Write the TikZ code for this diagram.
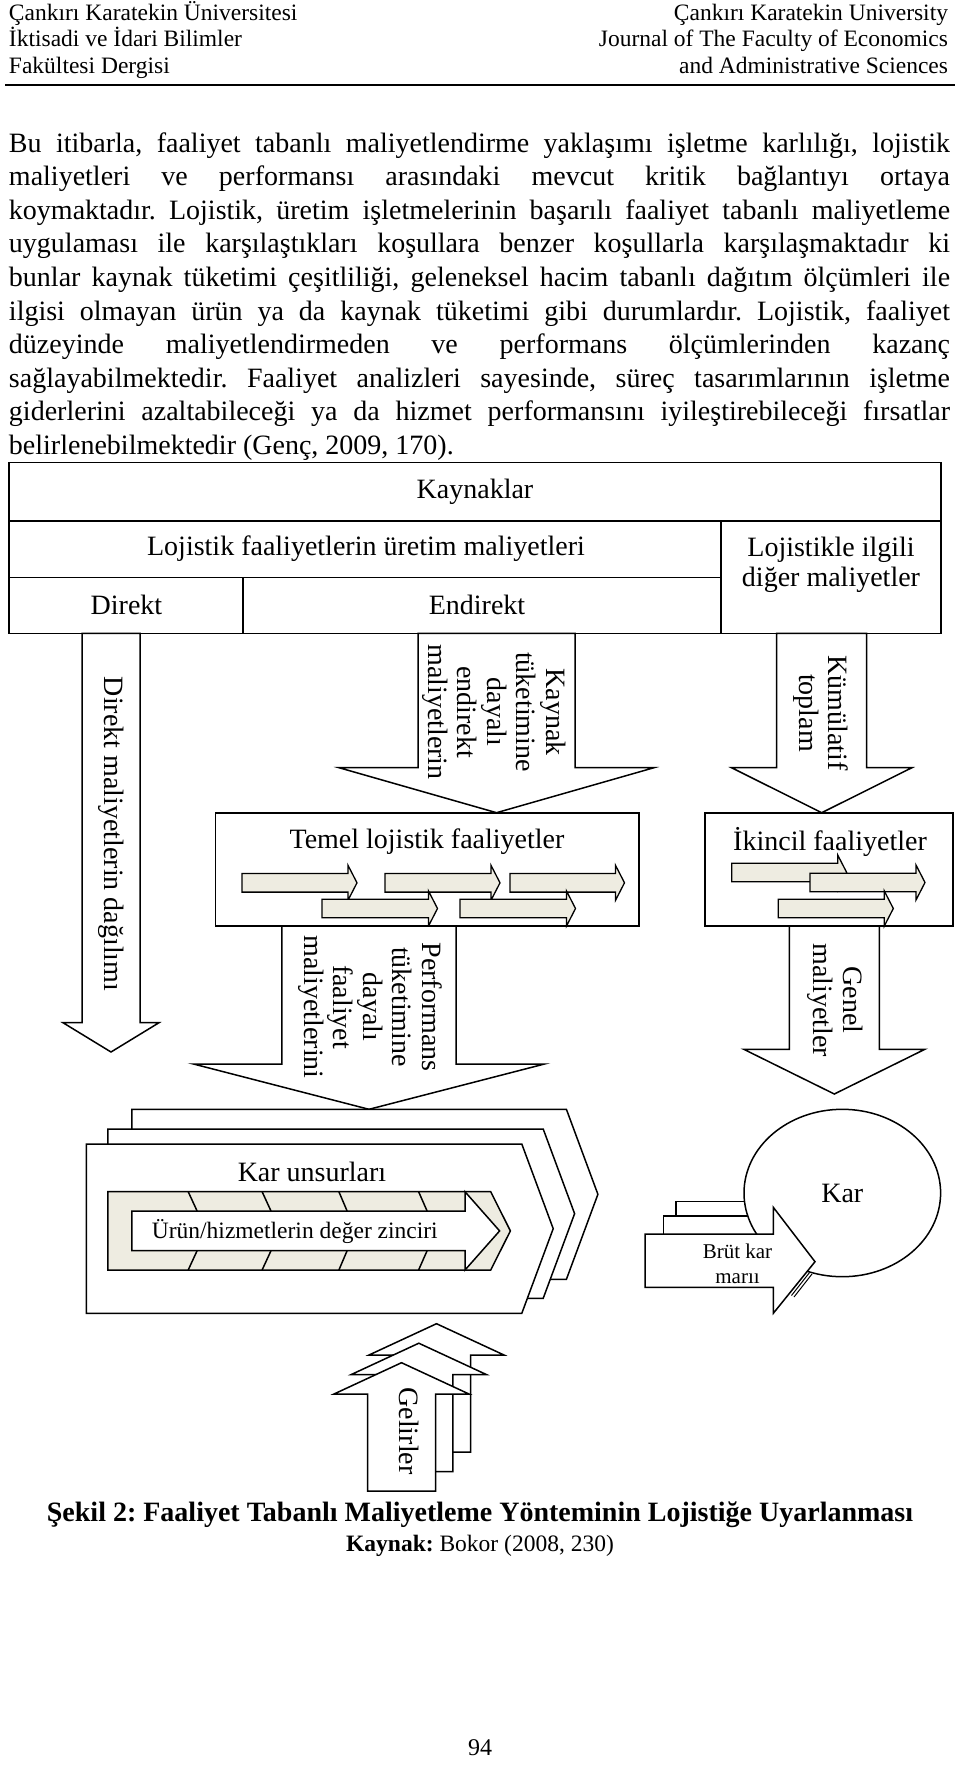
\documentclass[tikz,border=0pt]{standalone}
\usepackage{fontspec}
\setmainfont{Liberation Serif}
\frenchspacing
\definecolor{chev}{HTML}{EEECE1}
% cx, shaft half width, shaft end y, head base y, head half width, tip y
\newcommand\blockarrow[6]{\filldraw[fill=white] ({#1-#2},#3) -- ({#1-#2},#4) -- ({#1-#5},#4) -- (#1,#6) -- ({#1+#5},#4) -- ({#1+#2},#4) -- ({#1+#2},#3) -- cycle;}
% x start, x tip, y middle
\newcommand\chevarr[3]{\filldraw[fill=chev,line width=1.3pt] (#1,{#3-9.3}) -- ({#2-9},{#3-9.3}) -- ({#2-9},{#3-17.5}) -- (#2,#3) -- ({#2-9},{#3+17.5}) -- ({#2-9},{#3+9.3}) -- (#1,{#3+9.3}) -- cycle;}
% x left, y top, x right, x point, y bottom
\newcommand\pentab[5]{\filldraw[fill=white] (#1,#2) -- (#3,#2) -- (#4,{(#2+#5)/2}) -- (#3,#5) -- (#1,#5) -- cycle;}
\begin{document}
\begin{tikzpicture}[x=1pt,y=-1pt,line width=1.5pt,line join=miter,
  every node/.style={inner sep=0pt,outer sep=0pt},
  hdr/.style={font=\fontsize{23.5}{26}\selectfont},
  para/.style={font=\fontsize{28}{33.6}\selectfont,anchor=base west},
  dg/.style={font=\fontsize{28}{29.5}\selectfont,align=center},
  vt/.style={dg,rotate=-90}]
\useasboundingbox (0,0) rectangle (960,1774);
% ---------- header ----------
\node[hdr,anchor=base west] (hl1) at (9,20.7) {Çankırı Karatekin Üniversitesi};
\node[hdr,anchor=base west] (hl2) at (9,46.7) {İktisadi ve İdari Bilimler};
\node[hdr,anchor=base west] (hl3) at (9,74) {Fakültesi Dergisi};
\node[hdr,anchor=base east] (hr1) at (948,20.7) {Çankırı Karatekin University};
\node[hdr,anchor=base east] (hr2) at (948,46.7) {Journal of The Faculty of Economics};
\node[hdr,anchor=base east] (hr3) at (948,74) {and Administrative Sciences};
\draw[line width=2pt] (5,85) -- (955,85);
% ---------- paragraph ----------
\node[para] (p1) at (9,152) {\makebox[941pt][s]{Bu itibarla, faaliyet tabanlı maliyetlendirme yaklaşımı işletme karlılığı, lojistik}};
\node[para] (p2) at (9,185.6) {\makebox[941pt][s]{maliyetleri ve performansı arasındaki mevcut kritik bağlantıyı ortaya}};
\node[para] (p3) at (9,219.2) {\makebox[941pt][s]{koymaktadır. Lojistik, üretim işletmelerinin başarılı faaliyet tabanlı maliyetleme}};
\node[para] (p4) at (9,252.8) {\makebox[941pt][s]{uygulaması ile karşılaştıkları koşullara benzer koşullarla karşılaşmaktadır ki}};
\node[para] (p5) at (9,286.4) {\makebox[941pt][s]{bunlar kaynak tüketimi çeşitliliği, geleneksel hacim tabanlı dağıtım ölçümleri ile}};
\node[para] (p6) at (9,320) {\makebox[941pt][s]{ilgisi olmayan ürün ya da kaynak tüketimi gibi durumlardır. Lojistik, faaliyet}};
\node[para] (p7) at (9,353.6) {\makebox[941pt][s]{düzeyinde maliyetlendirmeden ve performans ölçümlerinden kazanç}};
\node[para] (p8) at (9,387.2) {\makebox[941pt][s]{sağlayabilmektedir. Faaliyet analizleri sayesinde, süreç tasarımlarının işletme}};
\node[para] (p9) at (9,420.8) {\makebox[941pt][s]{giderlerini azaltabileceği ya da hizmet performansını iyileştirebileceği fırsatlar}};
\node[para] (p10) at (9,454.4) {belirlenebilmektedir (Genç, 2009, 170).};
% ---------- table ----------
\draw (9,462.7) rectangle (941,633.3);
\draw (9,521) -- (941,521);
\draw (9,577.3) -- (721,577.3);
\draw (721,521) -- (721,633.3);
\draw (243,577.3) -- (243,633.3);
\node[dg] (kay) at (475,491.8) {Kaynaklar};
\node[dg] (luret) at (366,549) {Lojistik faaliyetlerin üretim maliyetleri};
\node[dg] (dir) at (126.5,605) {Direkt};
\node[dg] (endir) at (477,605) {Endirekt};
\node[dg] (ldiger) at (831,565) {Lojistikle ilgili\\diğer maliyetler};
% ---------- down arrows from the table ----------
\blockarrow{111}{29}{633.3}{1022.7}{48}{1052}
\node[vt] (tdir) at (111,834) {Direkt maliyetlerin dağılımı};
\blockarrow{496.5}{78.5}{633.3}{767.7}{157.5}{812.7}
\node[vt] (tkay) at (494,712) {Kaynak\\tüketimine\\dayalı\\endirekt\\maliyetlerin};
\blockarrow{821.7}{45}{633.3}{767.7}{90.2}{812.7}
\node[vt] (tkum) at (821,713) {Kümülatif\\toplam};
% ---------- activity boxes ----------
\draw[fill=white] (215.5,813) rectangle (639,926);
\node[dg] (temel) at (427,841.7) {Temel lojistik faaliyetler};
\chevarr{242}{357}{882.8}
\chevarr{385}{500}{882.8}
\chevarr{510}{624.5}{882.8}
\chevarr{322}{437.5}{908.5}
\chevarr{460}{575.5}{908.5}
\draw[fill=white] (705,813) rectangle (953,926);
\node[dg] (ikincil) at (830,841.7) {İkincil faaliyetler};
\chevarr{731.7}{846.7}{872.5}
\chevarr{810}{925}{882.5}
\chevarr{778.3}{893.3}{908.5}
% ---------- down arrows from the boxes ----------
\blockarrow{369}{87.2}{926}{1064}{175.5}{1109.3}
\node[vt] (tperf) at (370,1007) {Performans\\tüketimine\\dayalı\\faaliyet\\maliyetlerini};
\blockarrow{834.3}{45}{926}{1049.3}{90.5}{1094}
\node[vt] (tgenel) at (835,1000) {Genel\\maliyetler};
% ---------- profit elements ----------
\pentab{131.8}{1109.3}{566.4}{597.9}{1279.3}
\pentab{107.9}{1129}{543.2}{574.6}{1298.3}
\pentab{86.4}{1144}{521.8}{553.2}{1313.3}
\node[dg] (karuns) at (312,1171.7) {Kar unsurları};
\filldraw[fill=chev] (107.9,1191.7) -- (490.7,1191.7) -- (510.4,1230.9) -- (490.7,1270) -- (107.9,1270) -- cycle;
\foreach \xa/\xb in {188.2/197.1, 262.1/271, 338.9/347.1, 418.6/427.1}{
  \draw (\xa,1191.7) -- (\xb,1211);
  \draw (\xb,1250.7) -- (\xa,1270);
}
\filldraw[fill=white] (131.8,1211) -- (465,1211) -- (465,1191.7) -- (499.6,1230.9) -- (465,1270) -- (465,1250.7) -- (131.8,1250.7) -- cycle;
\node[font=\fontsize{23.5}{26}\selectfont] (zincir) at (294.8,1231.5) {Ürün/hizmetlerin değer zinciri};
% ---------- revenues ----------
\blockarrow{436.5}{34}{1452}{1355}{67.5}{1323.7}
\blockarrow{418.8}{34}{1471.5}{1374.5}{67.5}{1343.2}
\blockarrow{401.5}{34}{1491}{1394}{67.5}{1362.7}
\node[vt] (gelir) at (408.6,1431) {Gelirler};
% ---------- profit ----------
\filldraw[fill=white] (676,1201.7) rectangle (795,1255);
\filldraw[fill=white] (663.3,1216) rectangle (795,1269.3);
\filldraw[fill=white] (842.3,1193) ellipse [x radius=98.3,y radius=83.7];
\node[dg] (kar) at (842.3,1193) {Kar};
\draw[line width=1pt] (809.5,1272.5) -- (791.5,1295.5);
\draw[line width=1pt] (812,1274) -- (794,1297);
\filldraw[fill=white] (645,1234) -- (773.3,1234) -- (773.3,1207.3) -- (815,1261.7) -- (773.3,1313.3) -- (773.3,1287.3) -- (645,1287.3) -- cycle;
\node[font=\fontsize{21}{25}\selectfont,align=center] (brut) at (737.5,1264) {Brüt kar\\marıı};
% ---------- caption ----------
\node[font=\fontsize{28}{30}\selectfont\bfseries,anchor=base] (cap) at (480,1521) {Şekil 2: Faaliyet Tabanlı Maliyetleme Yönteminin Lojistiğe Uyarlanması};
\node[font=\fontsize{23.5}{26}\selectfont,anchor=base] (src) at (480,1551) {\textbf{Kaynak:} Bokor (2008, 230)};
\node[font=\fontsize{24}{26}\selectfont,anchor=base] (pno) at (480,1755) {94};
\end{tikzpicture}
\end{document}
